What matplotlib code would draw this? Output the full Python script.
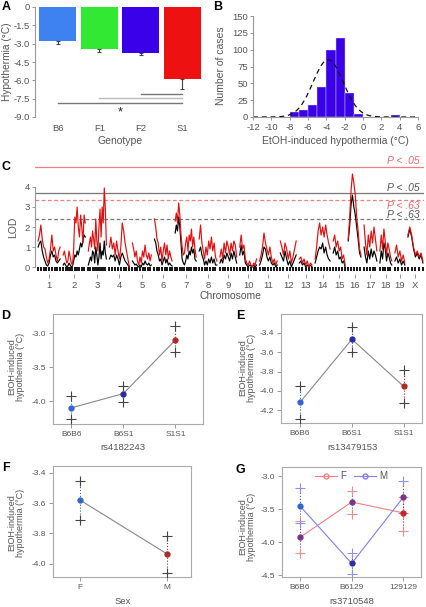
import numpy as np
import matplotlib
matplotlib.use('Agg')
import matplotlib.pyplot as plt
from matplotlib.lines import Line2D

plt.rcParams['font.family'] = ['Liberation Sans', 'DejaVu Sans']
plt.rcParams['font.size'] = 7
plt.rcParams['axes.unicode_minus'] = False

# ---------------- data ----------------
# A: hypothermia by genotype
genotypes = ['B6', 'F1', 'F2', 'S1']
hypo_mean = [-2.75, -3.45, -3.8, -5.9]
hypo_sem = [0.28, 0.25, 0.15, 0.8]
geno_colors = ['#3D82F0', '#33E833', '#3A00E8', '#EE1111']
comp_from = [2, 1, 0]          # compared against S1
comp_y = [-7.13, -7.48, -7.86]
comp_colors = ['#777777', '#BBBBBB', '#777777']

# B: histogram of EtOH-induced hypothermia
hist_left = [-8, -7, -6, -5, -4, -3, -2, -1, 3]
hist_count = [8, 10, 18, 45, 99, 118, 35, 4, 3]
fit_mean, fit_sd, fit_n = -3.8, 1.65, 352

# C: LOD scores per chromosome
chrom_names = ['1', '2', '3', '4', '5', '6', '7', '8', '9', '10', '11', '12',
               '13', '14', '15', '16', '17', '18', '19', 'X']
chrom_len_cm = [100, 100, 82, 90, 86, 80, 95, 80, 76, 76, 80, 72, 58, 68, 54,
                58, 58, 54, 45, 68]
lod_red = [
    [1.3, 1.6, 2.1, 1.4, 1.0, 0.9, 0.5, 0.2, 0.4, 0.9, 1.6, 0.8, 1.0, 0.6, 0.3, 0.8, 1.0],
    [0.6, 0.8, 0.5, 0.2, 0.3, 0.8, 0.5, 0.2, 0.1, 0.9, 2.5, 2.2, 3.0, 2.0, 1.5, 2.6, 2.0, 1.2, 2.6, 2.2],
    [0.8, 1.2, 1.5, 1.0, 1.8, 1.4, 0.9, 2.4, 1.3, 0.8, 2.0, 2.9, 1.5, 3.0, 2.2, 3.95, 2.9, 1.1],
    [1.0, 1.5, 0.9, 1.2, 0.6, 1.3, 0.8, 0.4, 1.0, 2.2, 1.8, 1.2, 0.8, 0.4, 0.0],
    [1.2, 0.9, 0.5, 0.8, 0.3, 0.1, 0.5, 0.2, 0.8, 0.5, 1.1, 0.6, 0.4, 0.7, 0.3, 0.6],
    [2.4, 2.0, 1.4, 1.2, 0.6, 1.0, 0.3, 0.8, 1.2, 0.6, 1.1, 0.4, 0.8, 0.5, 0.3],
    [2.3, 2.7, 2.2, 3.2, 2.6, 1.6, 1.0, 0.6, 0.7, 1.2, 1.5, 0.8, 1.6, 1.3, 1.9, 1.0, 1.5, 0.9, 0.5],
    [1.4, 2.1, 1.2, 0.8, 0.4, 1.0, 0.6, 1.3, 0.9, 1.5, 0.8, 1.2, 0.5, 0.3],
    [0.5, 0.9, 0.4, 1.2, 0.7, 1.3, 1.0, 0.6, 1.2, 0.8, 1.3, 1.1, 0.5],
    [1.0, 1.6, 0.9, 1.1, 0.4, 0.2, 0.1, 0.3, 0.1, 0.0, 0.2, 0.1, 0.4],
    [0.3, 0.6, 1.0, 1.7, 1.2, 0.9, 0.6, 1.0, 0.5, 0.2, 0.4, 0.1, 0.3],
    [1.3, 1.0, 0.6, 1.2, 0.9, 0.4, 0.8, 0.2, 0.5, 0.9, 1.3],
    [0.4, 0.5, 0.2, 0.4, 0.1, 0.3, 0.0, 0.2, 0.1],
    [0.4, 1.0, 1.8, 2.2, 1.6, 2.0, 1.5, 2.1, 1.6, 1.2, 0.9],
    [1.3, 1.6, 1.0, 1.3, 0.8, 1.0, 0.4, 0.6, 0.1],
    [1.4, 2.4, 3.8, 4.65, 4.2, 3.6, 2.5, 1.8, 0.9, 0.6],
    [2.1, 1.2, 0.6, 1.6, 1.0, 1.8, 1.2, 2.0, 1.4, 0.8],
    [0.8, 1.6, 0.9, 1.9, 1.3, 0.6, 1.2, 0.9, 0.5, 0.3],
    [0.7, 1.1, 0.5, 0.8, 0.3, 0.6, 0.2],
    [1.6, 2.0, 1.6, 1.0, 0.6, 0.8, 0.5, 0.7, 0.3],
]
lod_black = [
    [1.0, 1.2, 1.3, 0.8, 0.5, 0.3, 0.1, 0.05, 0.2, 0.6, 0.8, 0.5, 0.6, 0.3, 0.2, 0.3, 0.4],
    [0.1, 0.2, 0.1, 0.0, 0.05, 0.2, 0.1, 0.0, 0.05, 0.3, 0.6, 0.5, 0.8, 0.6, 0.9, 1.2, 1.0, 1.3, 1.6, 1.5],
    [0.1, 0.3, 0.5, 0.3, 0.8, 0.7, 0.2, 1.0, 0.6, 0.1, 0.5, 1.2, 0.4, 0.8, 0.6, 1.3, 0.7, 0.4],
    [0.4, 0.6, 0.5, 0.6, 0.3, 0.6, 0.4, 0.1, 0.5, 0.7, 0.5, 0.3, 0.2, 0.1, 0.0],
    [0.3, 0.2, 0.1, 0.15, 0.05, 0.0, 0.1, 0.0, 0.2, 0.1, 0.3, 0.15, 0.1, 0.2, 0.05, 0.1],
    [1.4, 1.2, 0.8, 0.6, 0.3, 0.4, 0.1, 0.3, 0.5, 0.2, 0.4, 0.1, 0.2, 0.1, 0.05],
    [1.7, 2.1, 1.8, 2.5, 2.0, 1.2, 0.4, 0.2, 0.1, 0.3, 0.6, 0.4, 0.8, 0.6, 1.0, 0.7, 0.9, 0.4, 0.3],
    [0.8, 1.0, 0.6, 0.4, 0.1, 0.3, 0.1, 0.4, 0.2, 0.5, 0.2, 0.4, 0.1, 0.1],
    [0.2, 0.4, 0.2, 0.6, 0.4, 0.7, 0.5, 0.3, 0.7, 0.4, 0.8, 0.5, 0.2],
    [0.6, 1.1, 0.6, 0.8, 0.2, 0.1, 0.0, 0.1, 0.05, 0.0, 0.1, 0.0, 0.1],
    [0.1, 0.3, 0.6, 1.0, 0.9, 0.5, 0.3, 0.5, 0.2, 0.1, 0.2, 0.0, 0.1],
    [0.7, 0.5, 0.3, 0.8, 0.4, 0.1, 0.3, 0.0, 0.2, 0.4, 0.6],
    [0.2, 0.3, 0.1, 0.2, 0.0, 0.1, 0.0, 0.1, 0.0],
    [0.2, 0.5, 0.8, 1.0, 0.9, 1.2, 0.7, 1.0, 0.6, 0.4, 0.3],
    [0.7, 1.0, 0.6, 0.8, 0.4, 0.5, 0.2, 0.3, 0.0],
    [1.3, 2.0, 3.1, 3.6, 3.0, 2.6, 2.0, 1.4, 0.7, 0.5],
    [1.0, 0.5, 0.2, 0.8, 0.4, 0.9, 0.5, 0.8, 0.6, 0.3],
    [0.2, 0.8, 0.4, 1.2, 0.9, 0.3, 0.7, 0.5, 0.2, 0.1],
    [0.3, 0.5, 0.2, 0.4, 0.1, 0.3, 0.1],
    [1.5, 1.9, 1.5, 0.9, 0.5, 0.7, 0.4, 0.6, 0.2],
]
chrom_gap = 14
thr_red_05, thr_black_05, thr_red_63, thr_black_63 = 5.0, 3.68, 3.35, 2.38

# D-G: means with +/- SE
d_groups = ['B6B6', 'B6S1', 'S1S1']
d_mean = [-4.10, -3.89, -3.10]
d_lo = [-4.265, -4.01, -3.28]
d_hi = [-3.93, -3.775, -2.90]

e_groups = ['B6B6', 'B6S1', 'S1S1']
e_mean = [-4.118, -3.468, -3.954]
e_lo = [-4.288, -3.60, -4.124]
e_hi = [-3.947, -3.338, -3.783]

f_groups = ['F', 'M']
f_mean = [-3.579, -3.936]
f_lo = [-3.711, -4.061]
f_hi = [-3.452, -3.816]

g_groups = ['B6B6', 'B6129', '129129']
g_f_mean = [-3.925, -3.39, -3.555]
g_f_lo = [-4.165, -3.565, -3.825]
g_f_hi = [-3.675, -3.225, -3.315]
g_m_mean = [-3.45, -4.32, -3.315]
g_m_lo = [-3.715, -4.48, -3.555]
g_m_hi = [-3.18, -4.16, -3.075]

c_blue, c_dblue, c_red, c_purple = '#3366CC', '#2B2BA8', '#B02828', '#7A3488'

# ---------------- figure ----------------
W, H = 426, 607
fig = plt.figure(figsize=(W / 100, H / 100), dpi=100)
TXT = '#555555'
SP = '#999999'


def ax_px(x0, y0, x1, y1):
    return fig.add_axes([x0 / W, 1 - y1 / H, (x1 - x0) / W, (y1 - y0) / H])


def ftext(x, y, s, **kw):
    kw.setdefault('ha', 'center')
    kw.setdefault('va', 'center')
    kw.setdefault('color', TXT)
    return fig.text(x / W, 1 - y / H, s, **kw)


def r_style(ax, left=True, bottom=True, fs=7):
    for s in ['top', 'right']:
        ax.spines[s].set_visible(False)
    ax.spines['left'].set_visible(left)
    ax.spines['bottom'].set_visible(bottom)
    for s in ['left', 'bottom']:
        ax.spines[s].set_color(SP)
        ax.spines[s].set_linewidth(0.8)
    ax.tick_params(colors=SP, labelcolor=TXT, labelsize=fs, length=2, width=0.7, pad=1.5)


def box_style(ax, fs=6):
    for s in ax.spines.values():
        s.set_color('#AAAAAA')
        s.set_linewidth(0.8)
    ax.tick_params(colors=SP, labelcolor=TXT, labelsize=fs, length=3, width=0.7, pad=2)


# ----- A -----
axA = ax_px(35, 7, 203, 117)
xa = np.arange(len(genotypes))
axA.bar(xa, hypo_mean, width=0.89, color=geno_colors)
axA.errorbar(xa, hypo_mean, yerr=[hypo_sem, [0] * 4], fmt='none', ecolor='#444444',
             elinewidth=0.8, capsize=1.2, capthick=0.8)
for i, yv, cc in zip(comp_from, comp_y, comp_colors):
    axA.plot([xa[i], xa[3]], [yv, yv], color=cc, lw=1.0)
axA.text((xa[0] + xa[3]) / 2, -8.62, '*', ha='center', va='center', fontsize=9, color='#222222')
axA.set_xlim(-0.55, 3.5)
axA.set_ylim(-9, 0)
r_style(axA, bottom=False, fs=6.8)
axA.spines['left'].set_bounds(-9, 0)
axA.set_yticks([0, -1.5, -3, -4.5, -6, -7.5, -9])
axA.set_yticklabels(['0', '-1.5', '-3.0', '-4.5', '-6.0', '-7.5', '-9.0'])
axA.set_xticks(xa)
axA.set_xticklabels(genotypes)
axA.tick_params(axis='x', length=0, pad=5)
ftext(7, 62, 'Hypothermia (°C)', rotation=90, fontsize=7.3)
ftext(120, 141, 'Genotype', fontsize=7.5)
ftext(6, 7, 'A', fontsize=9, fontweight='bold', color='black')

# ----- B -----
axB = ax_px(253, 16, 418, 117)
axB.bar(hist_left, hist_count, width=1, align='edge', color='#3A00E8', edgecolor='#D8D0F8', lw=0.3)
xf = np.linspace(-12, 6, 300)
yf = fit_n / (fit_sd * np.sqrt(2 * np.pi)) * np.exp(-0.5 * ((xf - fit_mean) / fit_sd) ** 2)
axB.plot(xf, yf, color='#111111', lw=0.9, ls=(0, (4, 3)))
axB.set_xlim(-12, 6)
axB.set_ylim(0, 150)
r_style(axB, fs=6.8)
axB.tick_params(axis='x', pad=2.5)
axB.set_xticks(range(-12, 7, 2))
axB.set_yticks(range(0, 151, 25))
ftext(221, 66, 'Number of cases', rotation=90, fontsize=7.5)
ftext(335, 141, 'EtOH-induced hypothermia (°C)', fontsize=7.5)
ftext(218, 7, 'B', fontsize=9, fontweight='bold', color='black')

# ----- C -----
axC = ax_px(35, 158, 424, 274)
starts = np.concatenate([[0], np.cumsum(np.array(chrom_len_cm) + chrom_gap)[:-1]])
centers = []
for k in range(len(chrom_names)):
    pos = np.linspace(starts[k], starts[k] + chrom_len_cm[k], len(lod_red[k]))
    axC.plot(pos, lod_black[k], color='black', lw=0.85, zorder=3)
    axC.plot(pos, lod_red[k], color='#E01010', lw=0.85, zorder=4)
    axC.plot(pos[::2], [-0.12] * len(pos[::2]), ls='none', marker='|', ms=2.2, mew=1.3, color='black')
    centers.append(starts[k] + chrom_len_cm[k] / 2)
total = starts[-1] + chrom_len_cm[-1]
axC.axhline(thr_red_05, color='#F08080', lw=0.9)
axC.axhline(thr_black_05, color='#777777', lw=0.9)
axC.axhline(thr_red_63, color='#F08080', lw=0.9, ls=(0, (3, 2)))
axC.axhline(thr_black_63, color='#777777', lw=0.9, ls=(0, (3, 2)))
axC.set_xlim(-14, total + 5)
axC.set_ylim(-0.35, 5.45)
r_style(axC, bottom=False, fs=6.8)
axC.spines['left'].set_bounds(0, 4)
axC.set_yticks(range(0, 5))
axC.set_xticks(centers)
axC.set_xticklabels(chrom_names)
axC.tick_params(axis='x', length=3, pad=2)
ftext(420, 161, 'P < .05', ha='right', style='italic', color='#E86A6A', fontsize=7.5)
ftext(420, 188, 'P < .05', ha='right', style='italic', color='#555555', fontsize=7.5)
ftext(420, 206, 'P < .63', ha='right', style='italic', color='#E86A6A', fontsize=7.5)
ftext(420, 214.5, 'P < .63', ha='right', style='italic', color='#555555', fontsize=7.5)
ftext(13, 227, 'LOD', rotation=90, fontsize=7.5)
ftext(230, 296, 'Chromosome', fontsize=7.5)
ftext(6, 167, 'C', fontsize=9, fontweight='bold', color='black')


def means_panel(ax, means, lo, hi, colors, plus_color='#444444', line_color='#888888', label=None):
    xs = np.arange(1, len(means) + 1)
    ax.plot(xs, means, color=line_color, lw=0.8, zorder=2, label=label)
    for x, m, l, h, c in zip(xs, means, lo, hi, colors):
        ax.plot([x, x], [l, h], color=c, lw=0.8, ls=':', zorder=2)
        ax.plot([x, x], [l, h], ls='none', marker='+', ms=6.5, mew=0.8, color=plus_color, zorder=3)
        ax.plot(x, m, 'o', ms=3.5, color=c, zorder=4)
    return xs


# ----- D -----
axD = ax_px(53, 314, 203, 424)
xs = means_panel(axD, d_mean, d_lo, d_hi, [c_blue, c_dblue, c_red])
axD.set_xlim(0.65, 3.53)
axD.set_ylim(-4.338, -2.716)
box_style(axD)
axD.set_xticks(xs)
axD.set_xticklabels(d_groups)
axD.set_yticks([-3.0, -3.5, -4.0])
axD.set_yticklabels(['-3.0', '-3.5', '-4.0'])
ftext(16, 367, 'EtOH-induced\nhypothermia (°C)', rotation=90, fontsize=6.5, linespacing=1.05)
ftext(123, 448, 'rs4182243', fontsize=6.8)
ftext(6, 316, 'D', fontsize=9, fontweight='bold', color='black')

# ----- E -----
axE = ax_px(281, 314, 422, 423)
xs = means_panel(axE, e_mean, e_lo, e_hi, [c_blue, c_dblue, c_red])
axE.set_xlim(0.635, 3.35)
axE.set_ylim(-4.33, -3.208)
box_style(axE)
axE.set_xticks(xs)
axE.set_xticklabels(e_groups)
axE.set_yticks([-3.4, -3.6, -3.8, -4.0, -4.2])
axE.set_yticklabels(['-3.4', '-3.6', '-3.8', '-4.0', '-4.2'])
ftext(247, 368, 'EtOH-induced\nhypothermia (°C)', rotation=90, fontsize=6.5, linespacing=1.05)
ftext(352, 447, 'rs13479153', fontsize=6.8)
ftext(240, 316, 'E', fontsize=9, fontweight='bold', color='black')

# ----- F -----
axF = ax_px(53, 466, 191, 577)
xs = means_panel(axF, f_mean, f_lo, f_hi, [c_blue, c_red])
axF.set_xlim(0.696, 2.27)
axF.set_ylim(-4.087, -3.356)
box_style(axF)
axF.set_xticks(xs)
axF.set_xticklabels(f_groups)
axF.set_yticks([-3.4, -3.6, -3.8, -4.0])
axF.set_yticklabels(['-3.4', '-3.6', '-3.8', '-4.0'])
ftext(16, 523, 'EtOH-induced\nhypothermia (°C)', rotation=90, fontsize=6.5, linespacing=1.05)
ftext(123, 601, 'Sex', fontsize=6.8)
ftext(6, 468, 'F', fontsize=9, fontweight='bold', color='black')

# ----- G -----
axG = ax_px(282, 467, 421, 577)
means_panel(axG, g_f_mean, g_f_lo, g_f_hi, [c_purple, c_purple, '#D02020'],
            plus_color='#E89090', line_color='#F08080', label='F')
xs = means_panel(axG, g_m_mean, g_m_lo, g_m_hi, [c_blue, c_dblue, c_purple],
                 plus_color='#9090E8', line_color='#8080F0', label='M')
axG.set_xlim(0.652, 3.34)
axG.set_ylim(-4.526, -2.859)
box_style(axG)
axG.set_xticks(xs)
axG.set_xticklabels(g_groups)
axG.set_yticks([-3.0, -3.5, -4.0, -4.5])
axG.set_yticklabels(['-3.0', '-3.5', '-4.0', '-4.5'])
handles = [Line2D([], [], color='#F08080', lw=0.8, marker='o', mfc='none', ms=3.5),
           Line2D([], [], color='#8080F0', lw=0.8, marker='o', mfc='none', ms=3.5)]
axG.legend(handles, ['F', 'M'], loc='upper center', ncol=2, frameon=False, fontsize=7,
           handlelength=2.2, handletextpad=0.4, columnspacing=0.8, borderaxespad=0.05,
           labelcolor=TXT)
ftext(247, 527, 'EtOH-induced\nhypothermia (°C)', rotation=90, fontsize=6.5, linespacing=1.05)
ftext(352, 602, 'rs3710548', fontsize=6.8)
ftext(240, 470, 'G', fontsize=9, fontweight='bold', color='black')

fig.savefig('out.png', dpi=100)
